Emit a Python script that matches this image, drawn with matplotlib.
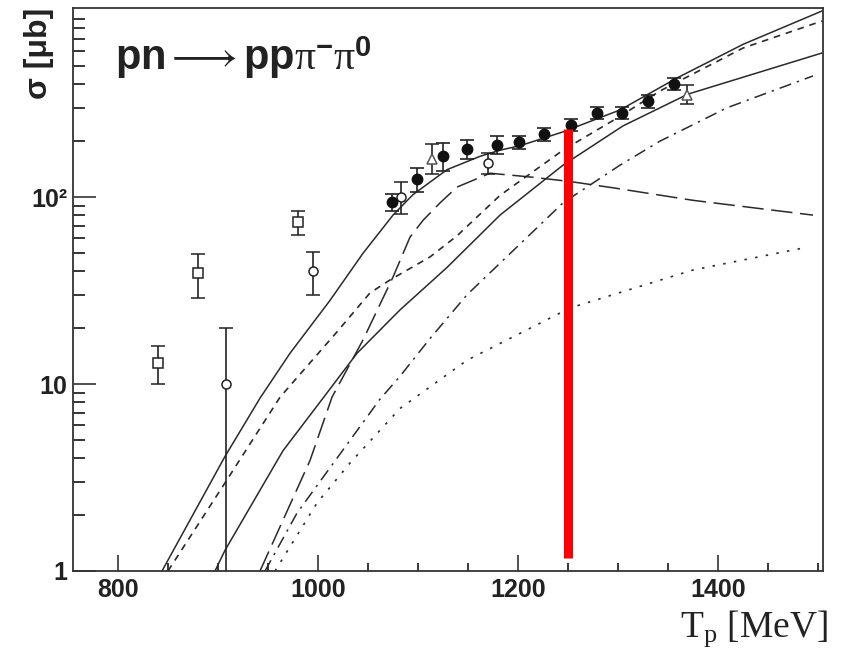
import matplotlib
matplotlib.use('Agg')
import matplotlib.pyplot as plt
from matplotlib.ticker import FixedLocator, FixedFormatter, MultipleLocator, LogLocator, NullFormatter

plt.rcParams['mathtext.fontset'] = 'custom'
plt.rcParams['mathtext.rm'] = 'Liberation Serif'
plt.rcParams['mathtext.it'] = 'Liberation Serif:italic'
plt.rcParams['mathtext.bf'] = 'Liberation Sans:bold'
plt.rcParams['mathtext.fallback'] = 'stix'

# model curves, T_p [MeV] vs sigma [mub]
total_T = [844, 907, 942, 972, 1012, 1045, 1075, 1095, 1129, 1162, 1182, 1202, 1245, 1302, 1359, 1425, 1504]
total_s = [1.0, 4.1, 8.4, 14.6, 28, 50, 80, 103, 140, 165, 178, 188, 223, 292, 433, 655, 988]

sdash_T = [850, 907, 962, 1019, 1052, 1072, 1112, 1139, 1182, 1245, 1299, 1342, 1425, 1504]
sdash_s = [1.0, 2.96, 8.5, 19, 30.7, 36, 47.8, 62, 102, 178, 264, 369, 626, 873]

solid2_T = [897, 907, 965, 1005, 1039, 1082, 1129, 1182, 1245, 1305, 1370, 1504]
solid2_s = [1.0, 1.29, 4.4, 8.4, 14.6, 24.9, 42, 80, 148, 240, 355, 589]

ldash_T = [942, 965, 992, 1014, 1045, 1075, 1092, 1105, 1122, 1139, 1172, 1212, 1252, 1295, 1375, 1495]
ldash_s = [1.0, 1.87, 3.9, 8.5, 17.2, 37.3, 61, 75, 93, 113, 134, 128, 121, 112, 96, 80]

dashdot_T = [947, 979, 1032, 1062, 1082, 1112, 1149, 1245, 1302, 1342, 1409, 1495]
dashdot_s = [1.0, 2.04, 5.0, 8.3, 11, 17.5, 30, 93, 148, 199, 300, 444]

dot_T = [957, 999, 1032, 1082, 1149, 1252, 1375, 1490]
dot_s = [1.0, 2.31, 3.78, 7.4, 13.4, 25.5, 40.7, 54]

# data points
wasa_T = [1074, 1099, 1125, 1149, 1179, 1201, 1226, 1253, 1279, 1304, 1330, 1356]
wasa_s = [94, 125, 166, 181, 190, 197, 217, 243, 281, 281, 326, 402]
wasa_err = [10, 18, 28, 21, 21, 16, 17, 18, 21, 21, 26, 30]

circ_T = [908, 995, 1083, 1170]
circ_s = [10, 40, 100, 152]
circ_lo = [9.5, 10, 19, 19]
circ_hi = [10, 11, 20, 20]

sq_T = [840, 880, 980]
sq_s = [12.9, 39, 73.5]
sq_lo = [2.9, 10.2, 10.5]
sq_hi = [3.1, 10.6, 10.5]

tri_T = [1114, 1369]
tri_s = [160, 351]
tri_lo = [27, 37]
tri_hi = [32, 46]

# red marker line
red_T = 1250
red_lo = 1.17
red_hi = 231

ytick_vals = [1, 10, 100]
ytick_labels = ['1', '10', '10²']
xtick_vals = [800, 1000, 1200, 1400]

fig = plt.figure(figsize=(8.43, 6.52), dpi=100)
ax = fig.add_axes([73 / 843, 1 - 571 / 652, 750 / 843, 563 / 652])

lc = '#2a2a2a'
ax.plot(total_T, total_s, color=lc, lw=1.1)
ax.plot(sdash_T, sdash_s, color=lc, lw=1.2, linestyle=(0, (4, 3.5)))
ax.plot(solid2_T, solid2_s, color=lc, lw=1.1)
ax.plot(ldash_T, ldash_s, color=lc, lw=1.1, linestyle=(0, (14, 5)))
ax.plot(dashdot_T, dashdot_s, color=lc, lw=1.1, linestyle=(0, (8, 4, 1.5, 4)))
ax.plot(dot_T, dot_s, color=lc, lw=1.2, linestyle=(0, (1.5, 5)))

ekw = dict(ecolor='#222222', elinewidth=1.2, capsize=5, capthick=1.2, linestyle='none', zorder=4)
ax.errorbar(sq_T, sq_s, yerr=[sq_lo, sq_hi], marker='s', ms=6.5, mfc='white', mec='#222222', mew=1.1, **ekw)
ax.errorbar(circ_T, circ_s, yerr=[circ_lo, circ_hi], marker='o', ms=6.5, mfc='white', mec='#222222', mew=1.1, **ekw)
ax.errorbar(tri_T, tri_s, yerr=[tri_lo, tri_hi], marker='^', ms=7.5, mfc='white', mec='#555555', mew=1.1, **ekw)
ax.errorbar(wasa_T, wasa_s, yerr=wasa_err, marker='o', ms=7.5, mfc='#111111', mec='#111111', **ekw)

ax.plot([red_T, red_T], [red_lo, red_hi], color='#ff0000', lw=6.5, solid_capstyle='butt', zorder=6)

ax.set_yscale('log')
ax.set_xlim(755, 1505)
ax.set_ylim(1, 1025)

ax.yaxis.set_major_locator(FixedLocator(ytick_vals))
ax.yaxis.set_major_formatter(FixedFormatter(ytick_labels))
ax.yaxis.set_minor_locator(LogLocator(base=10, subs=[2, 3, 4, 5, 6, 7, 8, 9]))
ax.yaxis.set_minor_formatter(NullFormatter())
ax.xaxis.set_major_locator(FixedLocator(xtick_vals))
ax.xaxis.set_minor_locator(MultipleLocator(50))

ax.tick_params(axis='x', which='major', direction='in', length=11.5, width=1.1, pad=5,
               labelsize=18, colors='#222222', top=False)
ax.tick_params(axis='x', which='minor', direction='in', length=5.8, width=1.1, top=False)
ax.tick_params(axis='y', which='major', direction='in', length=16.5, width=1.1, pad=4,
               labelsize=18, colors='#222222', right=False)
ax.tick_params(axis='y', which='minor', direction='in', length=8.5, width=1.1, right=False)
for lab in ax.get_xticklabels() + ax.get_yticklabels():
    lab.set_fontfamily('Liberation Sans')
    lab.set_fontweight('bold')

for sp in ax.spines.values():
    sp.set_linewidth(1.3)
    sp.set_color('#333333')

ax.text(0.056, 0.89, r'$\mathbf{pn}{\longrightarrow}\mathbf{pp}\mathrm{\pi}^{\mathbf{-}}\mathrm{\pi}^{\mathbf{0}}$',
        transform=ax.transAxes, fontsize=30, color='#222222', va='baseline', ha='left')

fig.text(39 / 843, 1 - 8 / 652, 'σ [μb]', rotation=90, ha='center', va='top',
         fontsize=23, fontfamily='Liberation Sans', fontweight='bold', color='#222222')
fig.text(828 / 843, 1 - 637 / 652, r'$\mathrm{T_p}$ [MeV]', ha='right', va='baseline',
         fontsize=27, fontfamily='Liberation Serif', color='#222222')

fig.savefig('out.png', dpi=100)
